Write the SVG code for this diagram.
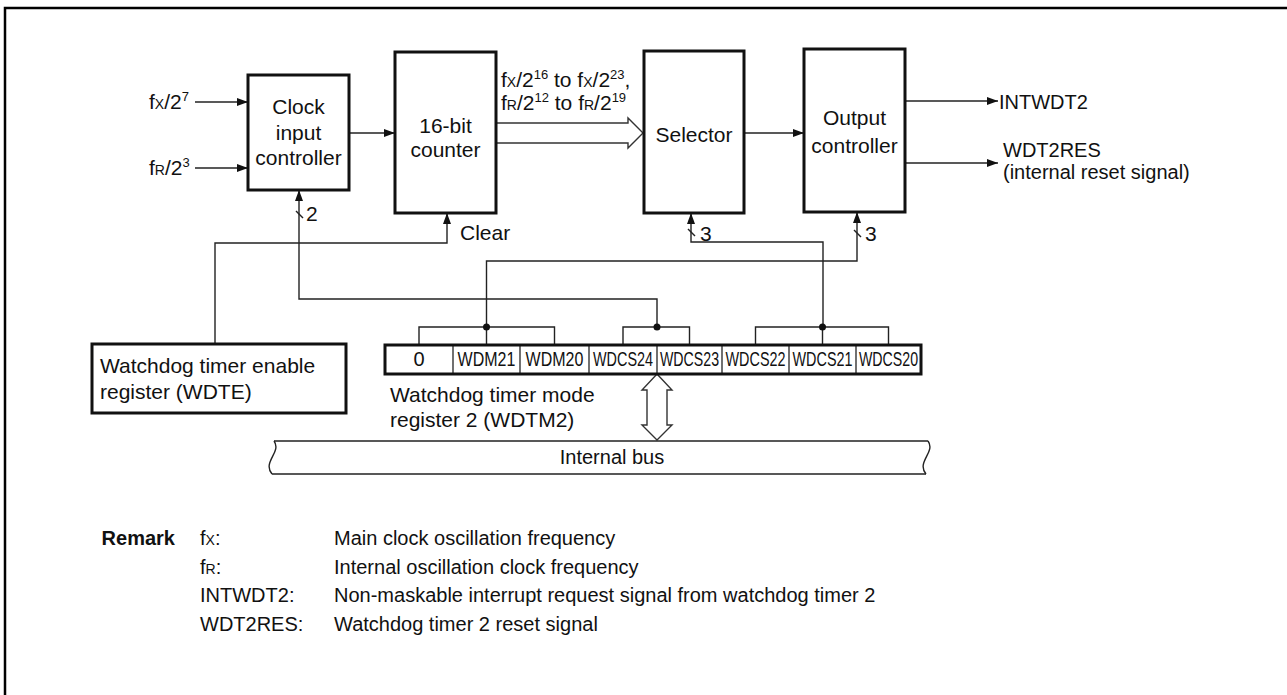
<svg xmlns="http://www.w3.org/2000/svg" width="1287" height="695" viewBox="0 0 1287 695">
<style>
text{font-family:"Liberation Sans",Arial,sans-serif;font-size:21px;fill:#111}
.box{fill:#fff;stroke:#111;stroke-width:3}
.ln{fill:none;stroke:#222;stroke-width:1.4}
.hol{fill:#fff;stroke:#333;stroke-width:1.4}
.c{text-anchor:middle}
.sc{font-size:14px}
.sup{font-size:13px}
.reg{font-size:20px;text-anchor:middle}
.s20{font-size:20px}
.b{font-weight:bold}
</style>
<defs>
<marker id="ah" markerUnits="userSpaceOnUse" markerWidth="11" markerHeight="8" refX="11" refY="4" orient="auto">
<path d="M0,0 L11,4 L0,8 z" fill="#111"/>
</marker>
</defs>
<path d="M5,695 V8 H1287" fill="none" stroke="#000" stroke-width="2.5"/>

<g id="connectors">
<line class="ln" x1="195" y1="102" x2="248" y2="102" marker-end="url(#ah)"/>
<line class="ln" x1="195" y1="168" x2="248" y2="168" marker-end="url(#ah)"/>
<line class="ln" x1="349" y1="133" x2="395" y2="133" marker-end="url(#ah)"/>
<polygon class="hol" points="496,123 628,123 628,118 643,133 628,148 628,143 496,143"/>
<line class="ln" x1="744" y1="133" x2="804" y2="133" marker-end="url(#ah)"/>
<line class="ln" x1="905" y1="101" x2="998" y2="101" marker-end="url(#ah)"/>
<line class="ln" x1="905" y1="163" x2="998" y2="163" marker-end="url(#ah)"/>
<polyline class="ln" points="215,344 215,243 447,243 447,213" marker-end="url(#ah)"/>
<polyline class="ln" points="657,327 657,299 299,299 299,190" marker-end="url(#ah)"/>
<line class="ln" x1="296" y1="211" x2="303" y2="218"/>
<polyline class="ln" points="823,327 823,242 691,242 691,213" marker-end="url(#ah)"/>
<line class="ln" x1="688" y1="229" x2="695" y2="236"/>
<polyline class="ln" points="486.5,327 486.5,261 857,261 857,212" marker-end="url(#ah)"/>
<line class="ln" x1="854" y1="230" x2="861" y2="237"/>
<polyline class="ln" points="419,345 419,327 554.5,327 554.5,345"/>
<line class="ln" x1="486.5" y1="327" x2="486.5" y2="345"/>
<polyline class="ln" points="623,345 623,327 689.5,327 689.5,345"/>
<polyline class="ln" points="755.5,345 755.5,327 888.5,327 888.5,345"/>
<line class="ln" x1="822.5" y1="327" x2="822.5" y2="345"/>
<circle cx="486.5" cy="327" r="3.5" fill="#111"/>
<circle cx="657" cy="327" r="3.5" fill="#111"/>
<circle cx="822.5" cy="327" r="3.5" fill="#111"/>
<polygon class="hol" points="657,374 672,390 667,390 667,425 672,425 657,440 642,425 647,425 647,390 642,390"/>
</g>

<g id="in-labels">
<text x="149" y="109">f<tspan class="sc">X</tspan>/2<tspan class="sup" dy="-8">7</tspan></text>
<text x="149" y="175">f<tspan class="sc">R</tspan>/2<tspan class="sup" dy="-8">3</tspan></text>
<text x="501" y="87">f<tspan class="sc">X</tspan>/2<tspan class="sup" dy="-8">16</tspan><tspan dy="8"> to f</tspan><tspan class="sc">X</tspan>/2<tspan class="sup" dy="-8">23</tspan><tspan dy="8">,</tspan></text>
<text x="501" y="110">f<tspan class="sc">R</tspan>/2<tspan class="sup" dy="-8">12</tspan><tspan dy="8"> to f</tspan><tspan class="sc">R</tspan>/2<tspan class="sup" dy="-8">19</tspan></text>
<text x="306" y="221">2</text>
<text x="460" y="240">Clear</text>
<text x="700" y="241">3</text>
<text x="865" y="241">3</text>
<text class="s20" x="999" y="109">INTWDT2</text>
<text class="s20" x="1003" y="157">WDT2RES</text>
<text class="s20" x="1003" y="179">(internal reset signal)</text>
</g>

<g id="clock-input-controller">
<rect class="box" x="248" y="75" width="101" height="115"/>
<text class="c" x="298.5" y="114">Clock</text>
<text class="c" x="298.5" y="140">input</text>
<text class="c" x="298.5" y="165">controller</text>
</g>

<g id="counter">
<rect class="box" x="395" y="52" width="101" height="161"/>
<text class="c" x="445.5" y="133">16-bit</text>
<text class="c" x="445.5" y="157">counter</text>
</g>

<g id="selector">
<rect class="box" x="644" y="51" width="100" height="162"/>
<text class="c" x="694" y="142">Selector</text>
</g>

<g id="output-controller">
<rect class="box" x="804" y="49" width="101" height="163"/>
<text class="c" x="854.5" y="125">Output</text>
<text class="c" x="854.5" y="153">controller</text>
</g>

<g id="wdte">
<rect class="box" x="92" y="344" width="254" height="69"/>
<text x="100" y="373">Watchdog timer enable</text>
<text x="100" y="399">register (WDTE)</text>
</g>

<g id="wdtm2">
<rect x="385" y="345" width="536" height="29" fill="#fff" stroke="#111" stroke-width="3"/>
<g stroke="#111" stroke-width="1.2">
<line x1="453" y1="345" x2="453" y2="374"/>
<line x1="520" y1="345" x2="520" y2="374"/>
<line x1="589" y1="345" x2="589" y2="374"/>
<line x1="657" y1="345" x2="657" y2="374"/>
<line x1="722" y1="345" x2="722" y2="374"/>
<line x1="789" y1="345" x2="789" y2="374"/>
<line x1="856" y1="345" x2="856" y2="374"/>
</g>
<text class="reg" x="419" y="366">0</text>
<text class="reg" transform="translate(486.5,366) scale(0.8,1)">WDM21</text>
<text class="reg" transform="translate(554.5,366) scale(0.8,1)">WDM20</text>
<text class="reg" transform="translate(623,366) scale(0.72,1)">WDCS24</text>
<text class="reg" transform="translate(689.5,366) scale(0.71,1)">WDCS23</text>
<text class="reg" transform="translate(755.5,366) scale(0.72,1)">WDCS22</text>
<text class="reg" transform="translate(822.5,366) scale(0.72,1)">WDCS21</text>
<text class="reg" transform="translate(888.5,366) scale(0.71,1)">WDCS20</text>
<text x="390" y="402">Watchdog timer mode</text>
<text x="390" y="427">register 2 (WDTM2)</text>
</g>

<g id="internal-bus">
<path d="M274,441 H928 C936,452 916,462 926,474 H272 C262,462 282,452 274,441 z" fill="#fff" stroke="none"/>
<path d="M274,441 H928 M926,474 H272" class="ln" stroke="#444"/>
<path d="M274,441 C282,452 262,462 272,474 M928,441 C936,452 916,462 926,474" class="ln"/>
<text class="c s20" x="612" y="464">Internal bus</text>
</g>

<g id="remark">
<text class="b s20" x="175" y="545" text-anchor="end">Remark</text>
<text class="s20" x="200" y="545">f<tspan class="sc">X</tspan>:</text>
<text class="s20" x="334" y="545">Main clock oscillation frequency</text>
<text class="s20" x="200" y="574">f<tspan class="sc">R</tspan>:</text>
<text class="s20" x="334" y="574">Internal oscillation clock frequency</text>
<text class="s20" x="200" y="602">INTWDT2:</text>
<text class="s20" x="334" y="602">Non-maskable interrupt request signal from watchdog timer 2</text>
<text class="s20" x="200" y="631">WDT2RES:</text>
<text class="s20" x="334" y="631">Watchdog timer 2 reset signal</text>
</g>
</svg>
